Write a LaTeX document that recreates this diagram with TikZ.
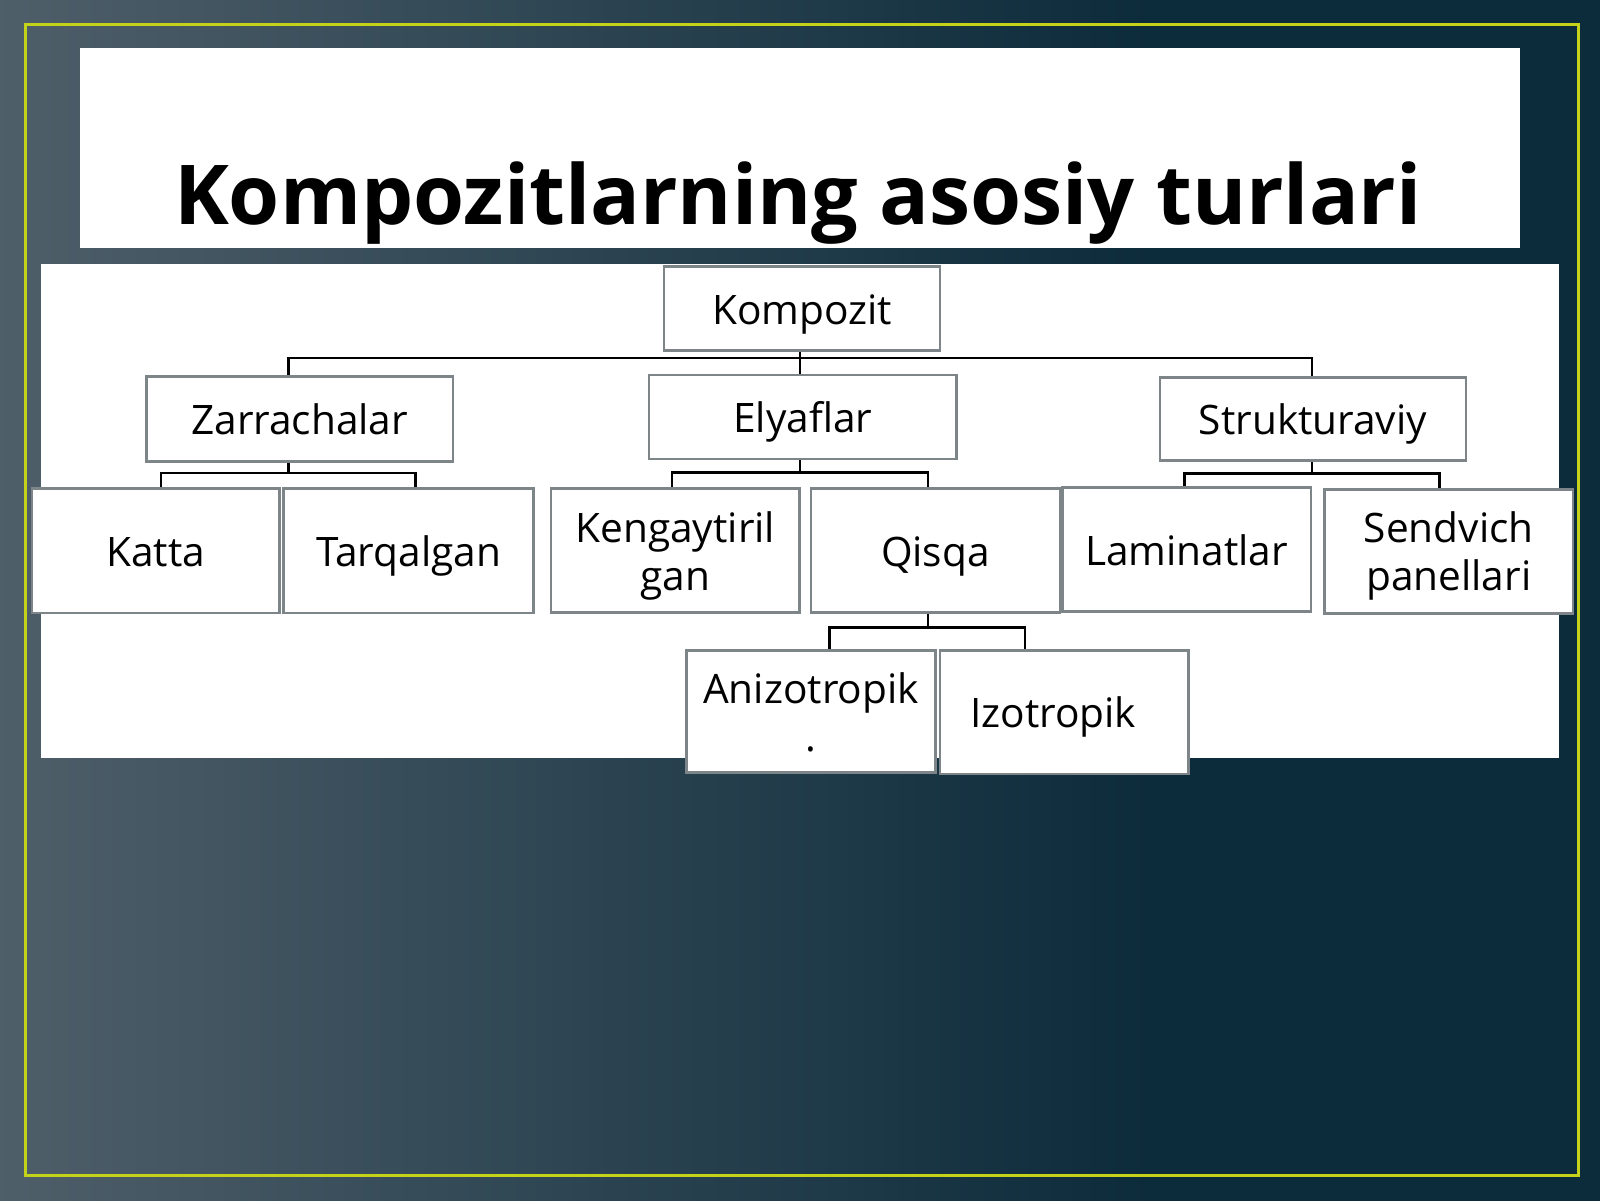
\documentclass[tikz,border=0pt]{standalone}
\usepackage{fontspec}
\setmainfont{Open Sans}
\definecolor{bglight}{HTML}{4F5F6A}
\definecolor{bgdark}{HTML}{0C2B3B}
\definecolor{framecol}{HTML}{C4D21A}
\definecolor{boxline}{HTML}{7D8589}
\begin{document}
\begin{tikzpicture}[x=0.5pt, y=-0.5pt,
  kbox/.style={rectangle, draw=boxline, fill=white, line width=1.3pt, inner sep=0pt, align=center,
    text height=20.6pt, text depth=5pt, font=\fontsize{20.3}{24}\selectfont},
  ktwo/.style={kbox, text height=44.6pt},
  kline/.style={draw=black, line width=1.3pt}]
\useasboundingbox (0,0) rectangle (1600,1200);
\fill[bgdark] (-10,-10) rectangle (1610,1210);
\shade[left color=bglight, right color=bgdark] (-10,-10) rectangle (1150,1210);
\draw[framecol, line width=1.5pt] (25.5,24.5) rectangle (1578,1175);
\fill[white] (80,48.3) rectangle (1520.4,247.7);
\fill[white] (40.8,264.3) rectangle (1558.7,758.3);

\node[anchor=base, font=\fontsize{41.3}{48}\selectfont\bfseries] (title) at (798,224) {Kompozitlarning asosiy turlari};

\node[kbox, minimum width=138pt, minimum height=42pt] (K) at (802,308.6) {Kompozit};

\node[kbox, minimum width=153.3pt, minimum height=42.5pt] (Z) at (299.7,419.2) {Zarrachalar};
\node[kbox, minimum width=153.8pt, minimum height=42pt] (E) at (802.8,417) {Elyaflar};
\node[kbox, minimum width=153pt, minimum height=41.7pt] (S) at (1313,419) {Strukturaviy};

\node[kbox, minimum width=123.8pt, minimum height=62.3pt] (Ka) at (155.8,550.6) {Katta};
\node[kbox, minimum width=125pt, minimum height=62.3pt] (T) at (408.7,550.6) {Tarqalgan};
\node[ktwo, minimum width=124.3pt, minimum height=62pt] (Ke) at (675.3,550.7) {Kengaytiril\\gan};
\node[kbox, minimum width=124.6pt, minimum height=62pt] (Q) at (935.4,550.7) {Qisqa};
\node[kbox, minimum width=124.2pt, minimum height=62.2pt] (L) at (1186.6,549.5) {Laminatlar};
\node[ktwo, minimum width=124.2pt, minimum height=62pt] (Sp) at (1448.7,551.3) {Sendvich\\panellari};

\node[ktwo, minimum width=124.5pt, minimum height=61pt] (A) at (811,711.7) {Anizotropik\\.};
\node[kbox, minimum width=124.4pt, minimum height=61.6pt] (I) at (1064.2,712.3) {Izotropik\hspace*{11pt}};

\draw[kline] ([xshift=-1pt]K.south) -- +(0,-3pt) -| ([xshift=-5.7pt]Z.north);
\draw[kline] ([xshift=-1pt]K.south) -- +(0,-3pt) -| ([xshift=-1.4pt]E.north);
\draw[kline] ([xshift=-1pt]K.south) -- +(0,-3pt) -| ([xshift=-0.5pt]S.north);

\draw[kline] ([xshift=-5.7pt]Z.south) -- +(0,-5pt) -| ([xshift=2.5pt]Ka.north);
\draw[kline] ([xshift=-5.7pt]Z.south) -- +(0,-5pt) -| ([xshift=3.5pt]T.north);

\draw[kline] ([xshift=-1.4pt]E.south) -- +(0,-6pt) -| ([xshift=-1.7pt]Ke.north);
\draw[kline] ([xshift=-1.4pt]E.south) -- +(0,-6pt) -| ([xshift=-3.7pt]Q.north);

\draw[kline] ([xshift=-0.5pt]S.south) -- +(0,-5.8pt) -| ([xshift=-1pt]L.north);
\draw[kline] ([xshift=-0.5pt]S.south) -- +(0,-5.8pt) -| ([xshift=-4.7pt]Sp.north);

\draw[kline] ([xshift=-3.7pt]Q.south) -- +(0,-6.6pt) -| ([xshift=9.3pt]A.north);
\draw[kline] ([xshift=-3.7pt]Q.south) -- +(0,-6.6pt) -| ([xshift=-19.7pt]I.north);
\end{tikzpicture}
\end{document}
